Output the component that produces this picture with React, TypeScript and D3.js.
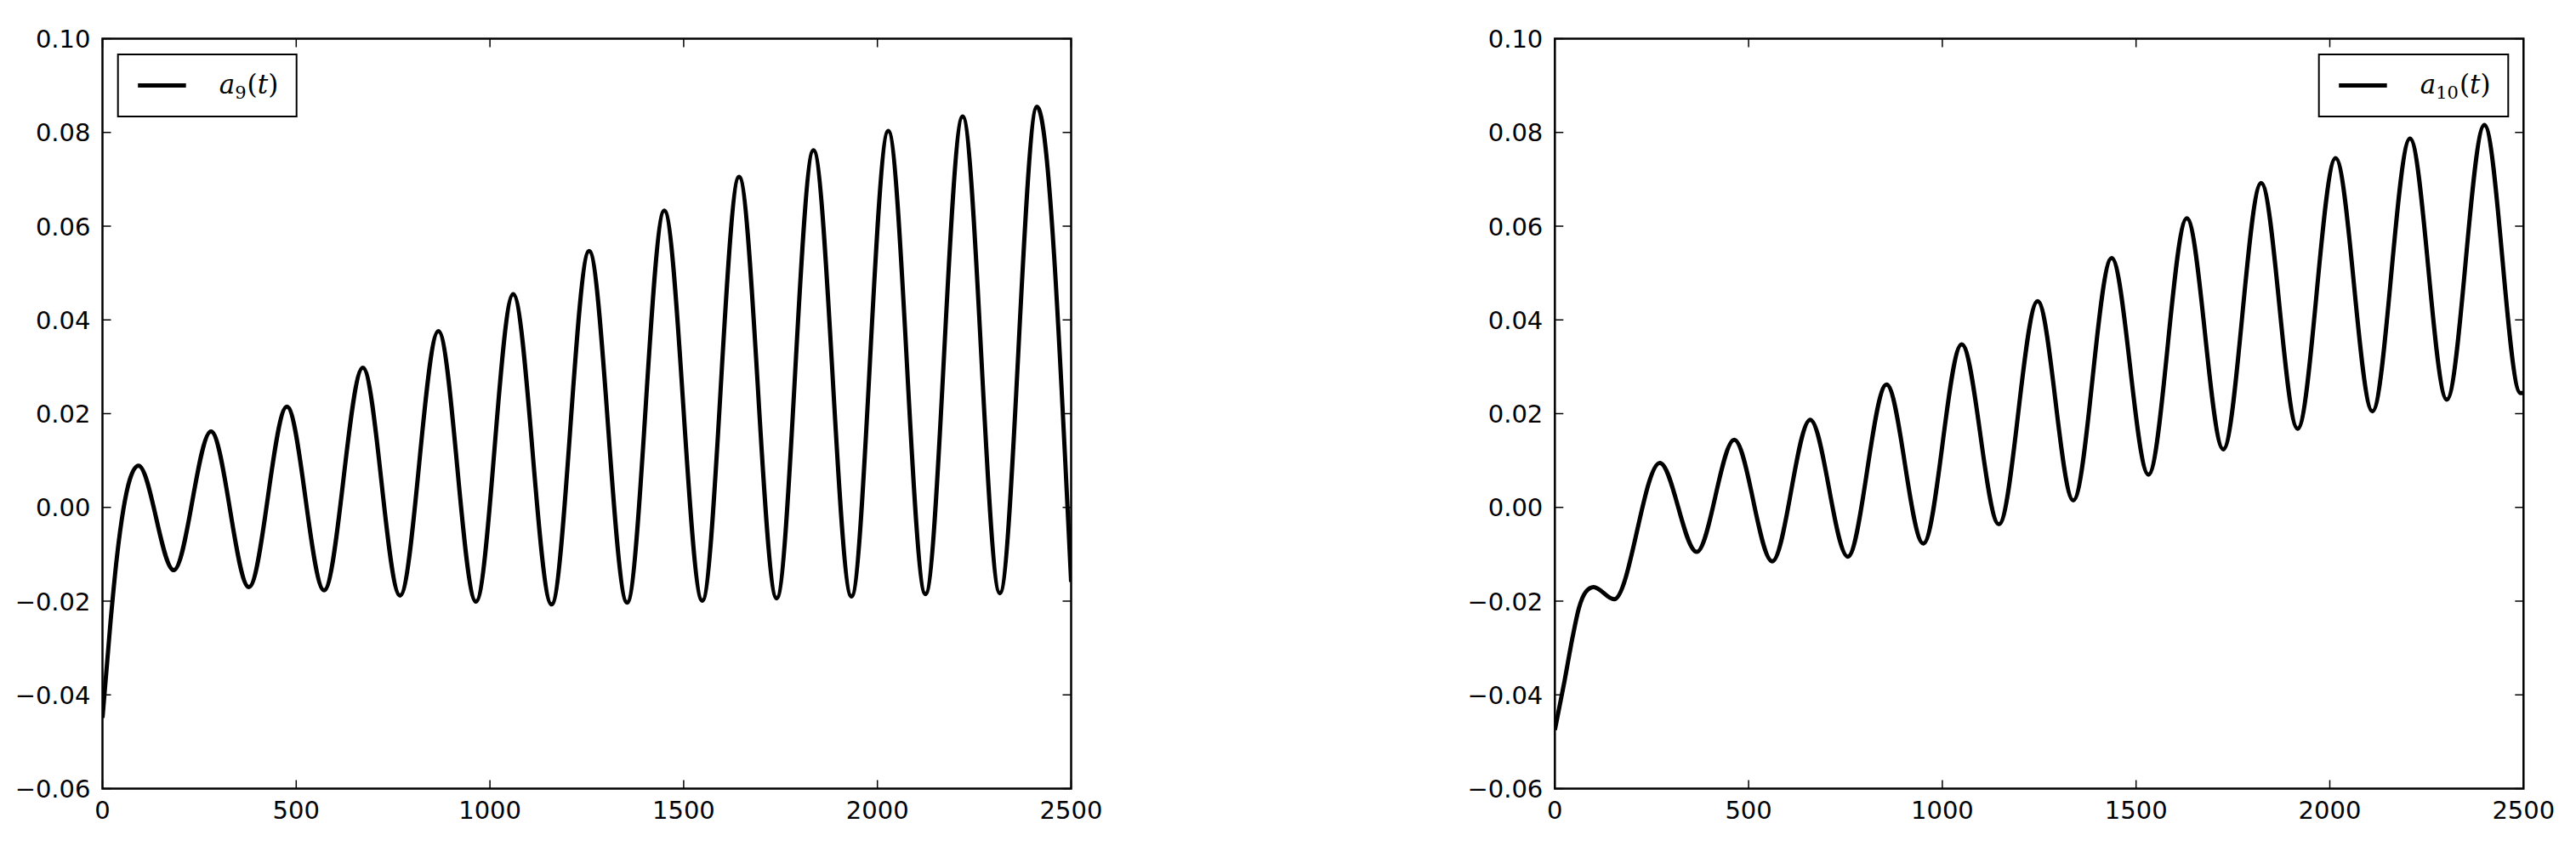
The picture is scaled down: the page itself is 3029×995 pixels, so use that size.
import React from "react";
import * as d3 from "d3";

// values (extrema + a few points on the initial rise)
const a9T = [0, 21, 37, 54, 70, 93, 184, 280, 378, 476, 572, 672, 768, 867, 964, 1060, 1159, 1256, 1354, 1450, 1548, 1643, 1740, 1835, 1933, 2028, 2124, 2220, 2316, 2412, 2500];
const a9V = [-0.0449, -0.0242, -0.0108, -0.0004, 0.0058, 0.0089, -0.0134, 0.0162, -0.017, 0.0215, -0.0177, 0.0298, -0.0188, 0.0376, -0.0201, 0.0455, -0.0207, 0.0547, -0.0203, 0.0633, -0.0199, 0.0705, -0.0194, 0.0762, -0.019, 0.0803, -0.0185, 0.0834, -0.0183, 0.0855, -0.0159];

const a10T = [0, 25, 45, 62, 80, 100, 153, 271, 366, 463, 561, 659, 756, 856, 951, 1050, 1146, 1246, 1338, 1437, 1532, 1631, 1725, 1823, 1917, 2015, 2110, 2207, 2302, 2399, 2492, 2500];
const a10V = [-0.0475, -0.037, -0.028, -0.0215, -0.018, -0.017, -0.0196, 0.0095, -0.0095, 0.0144, -0.0115, 0.0187, -0.0105, 0.0262, -0.0077, 0.0348, -0.0036, 0.044, 0.0015, 0.0532, 0.007, 0.0617, 0.0124, 0.0692, 0.0168, 0.0745, 0.0205, 0.0787, 0.023, 0.0816, 0.0244, 0.0244];

const xTicks = [0, 500, 1000, 1500, 2000, 2500];
const yTicks = [-0.06, -0.04, -0.02, 0.0, 0.02, 0.04, 0.06, 0.08, 0.1];

const W = 3029;
const H = 995;
const TOP = 45.5;
const BOTTOM = 927.5;
const TICK = 10;
const tickFont = "'DejaVu Sans', sans-serif";
const mathFont = "'DejaVu Serif', 'Liberation Serif', serif";

const Panel = ({ left, right, ts, vs, sub, legendRight }) => {
  const x = d3.scaleLinear().domain([0, 2500]).range([left, right]);
  const y = d3.scaleLinear().domain([-0.06, 0.1]).range([BOTTOM, TOP]);
  const pts = ts.map((t, i) => [t, vs[i]]);
  const line = d3
    .line()
    .x((d) => x(d[0]))
    .y((d) => y(d[1]))
    .curve(d3.curveMonotoneX);
  const fmt = d3.format(".2f");

  // legend box
  const lw = legendRight ? 222.6 : 210;
  const lx = legendRight ? right - 18 - lw : left + 18.2;
  const ly = TOP + 18.5;
  const lh = 73;

  return (
    <g>
      <defs>
        <clipPath id={"clip" + sub}>
          <rect x={left} y={TOP} width={right - left} height={BOTTOM - TOP} />
        </clipPath>
      </defs>
      <path
        d={line(pts)}
        fill="none"
        stroke="#000"
        strokeWidth={5}
        strokeLinejoin="round"
        clipPath={`url(#clip${sub})`}
      />
      {/* ticks, inside on all four sides */}
      {xTicks.map((t) => (
        <g key={"x" + t}>
          <line x1={x(t)} x2={x(t)} y1={BOTTOM} y2={BOTTOM - TICK} stroke="#000" strokeWidth={1.5} />
          <line x1={x(t)} x2={x(t)} y1={TOP} y2={TOP + TICK} stroke="#000" strokeWidth={1.5} />
          <text
            x={x(t)}
            y={963}
            textAnchor="middle"
            fontFamily={tickFont}
            fontSize={29}
            fill="#000"
          >
            {t}
          </text>
        </g>
      ))}
      {yTicks.map((v) => (
        <g key={"y" + v}>
          <line x1={left} x2={left + TICK} y1={y(v)} y2={y(v)} stroke="#000" strokeWidth={1.5} />
          <line x1={right} x2={right - TICK} y1={y(v)} y2={y(v)} stroke="#000" strokeWidth={1.5} />
          <text
            x={left - 14}
            y={y(v) + 10.5}
            textAnchor="end"
            fontFamily={tickFont}
            fontSize={29}
            fill="#000"
          >
            {fmt(v)}
          </text>
        </g>
      ))}
      <rect
        x={left}
        y={TOP}
        width={right - left}
        height={BOTTOM - TOP}
        fill="none"
        stroke="#000"
        strokeWidth={2.5}
      />
      {/* legend */}
      <rect x={lx} y={ly} width={lw} height={lh} fill="#fff" stroke="#000" strokeWidth={2} />
      <line
        x1={lx + 23.5}
        x2={lx + 80}
        y1={ly + lh / 2}
        y2={ly + lh / 2}
        stroke="#000"
        strokeWidth={5}
      />
      <text x={lx + 119} y={ly + 46} fontFamily={mathFont} fontSize={31} fill="#000">
        <tspan fontStyle="italic">a</tspan>
        <tspan fontSize={21} dy={6}>
          {sub}
        </tspan>
        <tspan dy={-6} dx={1}>(</tspan>
        <tspan fontStyle="italic">t</tspan>
        <tspan>)</tspan>
      </text>
    </g>
  );
};

export default function App() {
  return (
    <div style={{ position: "absolute", left: 0, top: 0 }}>
      <svg width={W} height={H} style={{ display: "block", background: "#fff" }}>
        <rect width={W} height={H} fill="#fff" />
        <Panel left={120.5} right={1259.5} ts={a9T} vs={a9V} sub="9" legendRight={false} />
        <Panel left={1828.3} right={2967.3} ts={a10T} vs={a10V} sub="10" legendRight={true} />
      </svg>
    </div>
  );
}
